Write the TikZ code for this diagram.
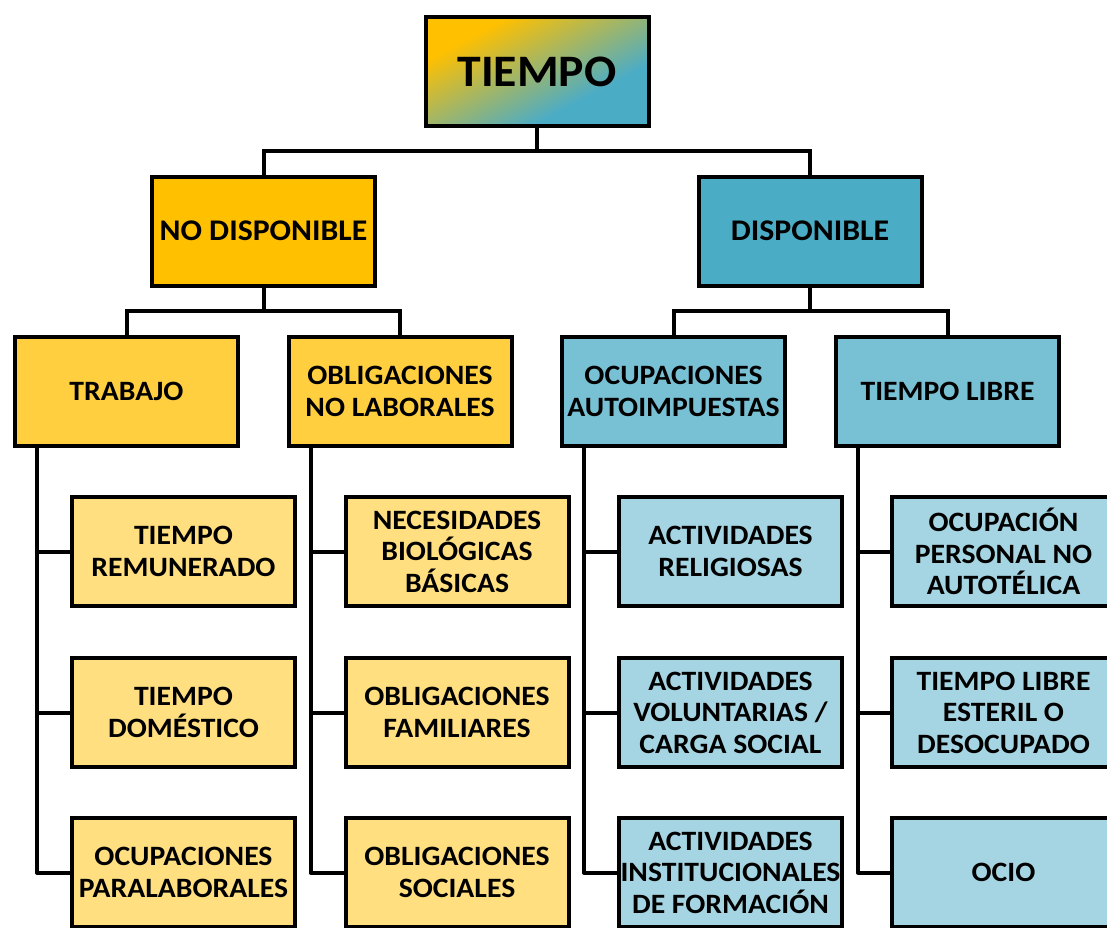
\documentclass[tikz,border=0pt]{standalone}
\usepackage{fontspec}
\setmainfont{Carlito}[FakeStretch=1.06]
\definecolor{cY}{HTML}{FFC000}
\definecolor{cB}{HTML}{4BACC6}
\definecolor{lY}{HTML}{FFCF40}
\definecolor{llY}{HTML}{FFDF80}
\definecolor{lB}{HTML}{78C0D4}
\definecolor{llB}{HTML}{A5D5E2}
\pgfdeclarehorizontalshading{tiemposhade}{100bp}{color(0bp)=(cY); color(41bp)=(cY); color(59bp)=(cB); color(100bp)=(cB)}
\begin{document}
\begin{tikzpicture}[x=1pt,y=-1pt,
  box/.style={draw=black, line width=4pt, minimum width=223pt, minimum height=109pt,
    align=center, inner sep=0pt, font=\fontsize{28}{31.5}\selectfont\bfseries},
  lvlone/.style={box, font=\fontsize{30}{34}\selectfont\bfseries},
  link/.style={draw=black, line width=4pt}]
\clip (0,0) rectangle (1107,927);
\node[box, font=\fontsize{45}{52}\selectfont\bfseries,
  path picture={\shade[shading=tiemposhade, shading angle=-62]
    ([shift={(-154,-157)}]path picture bounding box.center) rectangle
    ([shift={(146,143)}]path picture bounding box.center);}] (tiempo) at (537,71.5) {TIEMPO};
\node[lvlone, fill=cY] (nodisp) at (263.5,231) {NO DISPONIBLE};
\node[lvlone, fill=cB] (disp) at (810,231) {DISPONIBLE};
\node[box, fill=lY] (trab) at (126.5,391.5) {TRABAJO};
\node[box, fill=lY] (obl) at (400,391.5) {OBLIGACIONES\\NO LABORALES};
\node[box, fill=lB] (ocup) at (673.5,391.5) {OCUPACIONES\\AUTOIMPUESTAS};
\node[box, fill=lB] (tlib) at (947.5,391.5) {TIEMPO LIBRE};
% level 3
\node[box, fill=llY] (a1) at (183.5,551.5) {TIEMPO\\REMUNERADO};
\node[box, fill=llY] (a2) at (183.5,712.5) {TIEMPO\\DOMÉSTICO};
\node[box, fill=llY] (a3) at (183.5,872.5) {OCUPACIONES\\PARALABORALES};
\node[box, fill=llY] (b1) at (457,551.5) {NECESIDADES\\BIOLÓGICAS\\BÁSICAS};
\node[box, fill=llY] (b2) at (457,712.5) {OBLIGACIONES\\FAMILIARES};
\node[box, fill=llY] (b3) at (457,872.5) {OBLIGACIONES\\SOCIALES};
\node[box, fill=llB] (c1) at (730.5,551.5) {ACTIVIDADES\\RELIGIOSAS};
\node[box, fill=llB] (c2) at (730.5,712.5) {ACTIVIDADES\\VOLUNTARIAS /\\CARGA SOCIAL};
\node[box, fill=llB] (c3) at (730.5,872.5) {ACTIVIDADES\\INSTITUCIONALES\\DE FORMACIÓN};
\node[box, fill=llB] (d1) at (1003.5,551.5) {OCUPACIÓN\\PERSONAL NO\\AUTOTÉLICA};
\node[box, fill=llB] (d2) at (1003.5,712.5) {TIEMPO LIBRE\\ESTERIL O\\DESOCUPADO};
\node[box, fill=llB] (d3) at (1003.5,872.5) {OCIO};
% connectors
\coordinate (m0) at (0,151);
\coordinate (m1) at (0,311);
\draw[link] (tiempo.south) -- (tiempo.south |- m0) -| (nodisp.north);
\draw[link] (tiempo.south |- m0) -| (disp.north);
\draw[link] (nodisp.south) -- (nodisp.south |- m1) -| (trab.north);
\draw[link] (nodisp.south |- m1) -| (obl.north);
\draw[link] (disp.south) -- (disp.south |- m1) -| (ocup.north);
\draw[link] (disp.south |- m1) -| (tlib.north);
\foreach \p/\k in {trab/a, obl/b, ocup/c, tlib/d}{
  \foreach \i in {1,2,3}{
    \draw[link, line join=round] ([xshift=24pt]\p.south west) |- (\k\i.west);
  }
}
\end{tikzpicture}
\end{document}
